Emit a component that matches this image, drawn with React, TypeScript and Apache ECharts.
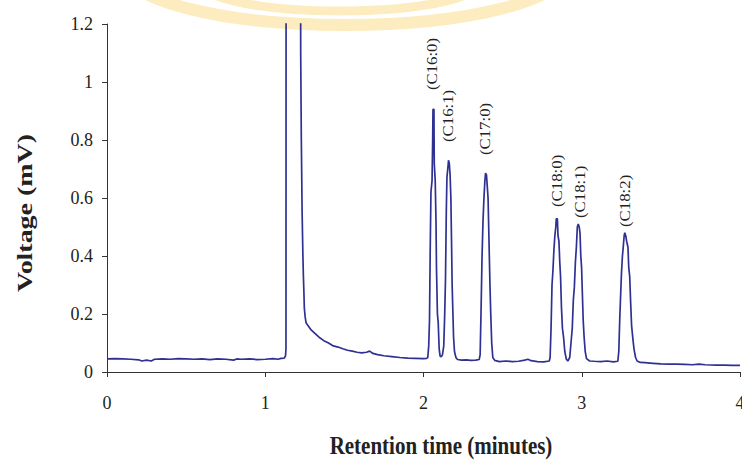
import React, { useEffect, useRef } from "react";
import * as echarts from "echarts";

// Retention time (minutes) and detector voltage (mV)
const retentionTime = [
  0, 0.05, 0.1, 0.15, 0.2, 0.22, 0.25, 0.28, 0.3, 0.35, 0.4, 0.45, 0.5, 0.55, 0.6, 0.65, 0.7, 0.75, 0.8, 0.82,
  0.85, 0.9, 0.95, 1.0, 1.05, 1.08, 1.1, 1.12, 1.128, 1.131, 1.132, 1.222, 1.224, 1.228, 1.233, 1.238, 1.241,
  1.244, 1.247, 1.252, 1.258, 1.27, 1.29, 1.31, 1.34, 1.37, 1.4, 1.43, 1.46, 1.49, 1.52, 1.55, 1.58, 1.61,
  1.64, 1.66, 1.68, 1.71, 1.75, 1.8, 1.85, 1.9, 1.95, 2.0, 2.02,
  2.027, 2.033, 2.038, 2.042, 2.047, 2.054, 2.058, 2.06, 2.066, 2.068, 2.074, 2.079, 2.082, 2.088, 2.093,
  2.099, 2.105, 2.112, 2.12,
  2.128, 2.134, 2.139, 2.144, 2.148, 2.155, 2.158, 2.163, 2.168, 2.173, 2.177, 2.181, 2.186, 2.19, 2.196,
  2.205, 2.215, 2.24, 2.27, 2.3, 2.33, 2.352,
  2.358, 2.364, 2.37, 2.376, 2.382, 2.388, 2.392, 2.398, 2.403, 2.408, 2.412, 2.416, 2.42, 2.425, 2.431,
  2.438, 2.45, 2.48, 2.52, 2.56, 2.6, 2.64, 2.66, 2.68, 2.72, 2.76, 2.795,
  2.8, 2.806, 2.812, 2.818, 2.824, 2.83, 2.836, 2.839, 2.846, 2.85, 2.856, 2.861, 2.866, 2.872, 2.878,
  2.885, 2.893, 2.902, 2.912, 2.924,
  2.932, 2.94, 2.947, 2.953, 2.96, 2.966, 2.972, 2.978, 2.984, 2.989, 2.994, 2.999, 3.004, 3.009, 3.015,
  3.022, 3.03, 3.05, 3.08, 3.12, 3.16, 3.2, 3.228,
  3.234, 3.24, 3.246, 3.251, 3.257, 3.262, 3.268, 3.272, 3.278, 3.284, 3.292, 3.297, 3.303, 3.309, 3.315,
  3.322, 3.33, 3.34, 3.35, 3.37, 3.4, 3.45, 3.5, 3.55, 3.6, 3.65, 3.7, 3.74, 3.78, 3.85, 3.9, 3.95, 4.0,
];

const voltage = [
  0.045, 0.046, 0.045, 0.044, 0.042, 0.038, 0.041, 0.038, 0.044, 0.045, 0.044, 0.046, 0.045, 0.044, 0.045,
  0.043, 0.045, 0.044, 0.041, 0.045, 0.044, 0.045, 0.043, 0.044, 0.046, 0.044, 0.047, 0.048, 0.055, 0.08,
  2.0, 2.0, 1.1, 0.8, 0.55, 0.4, 0.33, 0.28, 0.22, 0.19, 0.17, 0.16, 0.145, 0.135, 0.12, 0.108, 0.1, 0.09,
  0.086, 0.08, 0.075, 0.072, 0.068, 0.066, 0.068, 0.072, 0.064, 0.06, 0.056, 0.053, 0.05, 0.048, 0.047,
  0.046, 0.047,
  0.05, 0.09, 0.18, 0.4, 0.62, 0.66, 0.8, 0.906, 0.906, 0.72, 0.66, 0.52, 0.36, 0.2, 0.17, 0.08, 0.055,
  0.052, 0.06,
  0.09, 0.2, 0.32, 0.55, 0.67, 0.71, 0.73, 0.72, 0.68, 0.6, 0.455, 0.3, 0.2, 0.12, 0.07, 0.05, 0.043,
  0.041, 0.042, 0.04, 0.041, 0.043,
  0.06, 0.22, 0.4, 0.52, 0.6, 0.66, 0.686, 0.68, 0.64, 0.6, 0.5, 0.4, 0.3, 0.2, 0.1, 0.05, 0.04, 0.036,
  0.038, 0.036, 0.037, 0.041, 0.044, 0.039, 0.036, 0.035, 0.038,
  0.05, 0.15, 0.3, 0.35, 0.42, 0.47, 0.5, 0.528, 0.528, 0.47, 0.45, 0.38, 0.33, 0.22, 0.15, 0.12, 0.07,
  0.045, 0.038, 0.05,
  0.1, 0.15, 0.25, 0.29, 0.38, 0.43, 0.5, 0.51, 0.5, 0.48, 0.4, 0.36, 0.27, 0.18, 0.12, 0.07, 0.046,
  0.038, 0.037, 0.036, 0.038, 0.035, 0.037,
  0.07, 0.18, 0.27, 0.34, 0.4, 0.43, 0.47, 0.48, 0.47, 0.45, 0.43, 0.36, 0.33, 0.24, 0.16, 0.12, 0.08,
  0.05, 0.038, 0.033, 0.032, 0.03, 0.028, 0.027, 0.027, 0.026, 0.025, 0.027, 0.025, 0.024, 0.024, 0.023,
  0.023,
];

// Peak annotations: name, time of label, voltage where the label starts
const peakNames = ["(C16:0)", "(C16:1)", "(C17:0)", "(C18:0)", "(C18:1)", "(C18:2)"];
const peakLabelTime = [2.052, 2.155, 2.389, 2.842, 2.989, 3.273];
const peakLabelBase = [0.972, 0.793, 0.748, 0.569, 0.531, 0.5];

const xTicks = { min: 0, max: 4, interval: 1 };
const yTicks = { min: 0, max: 1.2, interval: 0.2 };

const SERIF = '"Liberation Serif", "Times New Roman", serif';

export default function App() {
  const ref = useRef<HTMLDivElement>(null);

  useEffect(() => {
    document.body.style.margin = "0";
    if (!ref.current) return;
    const chart = echarts.init(ref.current, undefined, { renderer: "svg" });

    const trace = retentionTime.map((t, i) => [t, voltage[i]]);
    const labels = peakLabelTime.map((t, i) => [t, peakLabelBase[i]]);

    chart.setOption({
      animation: false,
      backgroundColor: "#ffffff",
      grid: {
        left: 107,
        right: 2,
        top: 24,
        bottom: 88,
        containLabel: false,
        outerBoundsMode: "none",
      },
      xAxis: {
        type: "value",
        min: xTicks.min,
        max: xTicks.max,
        interval: xTicks.interval,
        axisLine: { show: true, onZero: false, lineStyle: { color: "#333", width: 1 } },
        axisTick: { show: true, inside: false, length: 5, lineStyle: { color: "#333" } },
        axisLabel: { fontFamily: SERIF, fontSize: 18, color: "#222", margin: 22 },
        splitLine: { show: false },
      },
      yAxis: {
        type: "value",
        min: yTicks.min,
        max: yTicks.max,
        interval: yTicks.interval,
        axisLine: { show: true, lineStyle: { color: "#333", width: 1 } },
        axisTick: { show: true, inside: false, length: 5, lineStyle: { color: "#333" } },
        axisLabel: { fontFamily: SERIF, fontSize: 18, color: "#222", margin: 14 },
        splitLine: { show: false },
      },
      graphic: [
        {
          type: "ellipse",
          z: -10,
          silent: true,
          shape: { cx: 345, cy: -30, rx: 220, ry: 55 },
          style: { fill: "none", stroke: "#fcecbf", lineWidth: 12 },
        },
        {
          type: "ellipse",
          z: -10,
          silent: true,
          shape: { cx: 340, cy: -15, rx: 135, ry: 26 },
          style: { fill: "none", stroke: "#fcecbf", lineWidth: 9 },
        },
        {
          type: "text",
          x: 25,
          y: 213,
          rotation: Math.PI / 2,
          scaleX: 1.27,
          style: {
            text: "Voltage (mV)",
            font: `bold 22px ${SERIF}`,
            fill: "#222",
            align: "center",
            verticalAlign: "middle",
          },
        },
        {
          type: "text",
          x: 441,
          y: 445,
          scaleY: 1.2,
          style: {
            text: "Retention time (minutes)",
            font: `bold 21px ${SERIF}`,
            fill: "#222",
            align: "center",
            verticalAlign: "middle",
          },
        },
      ],
      series: [
        {
          type: "line",
          data: trace,
          showSymbol: false,
          symbol: "none",
          clip: true,
          lineStyle: { color: "#2e3192", width: 1.7 },
          z: 3,
        },
        {
          type: "custom",
          data: labels,
          z: 4,
          renderItem: (params: any, api: any) => {
            const p = api.coord([api.value(0), api.value(1)]);
            return {
              type: "text",
              x: p[0],
              y: p[1],
              rotation: Math.PI / 2,
              scaleX: 1.2,
              style: {
                text: peakNames[params.dataIndex],
                font: `14px ${SERIF}`,
                fill: "#222",
                align: "left",
                verticalAlign: "middle",
              },
            };
          },
        },
      ],
    });

    return () => chart.dispose();
  }, []);

  return <div ref={ref} style={{ width: 742, height: 460 }} />;
}
